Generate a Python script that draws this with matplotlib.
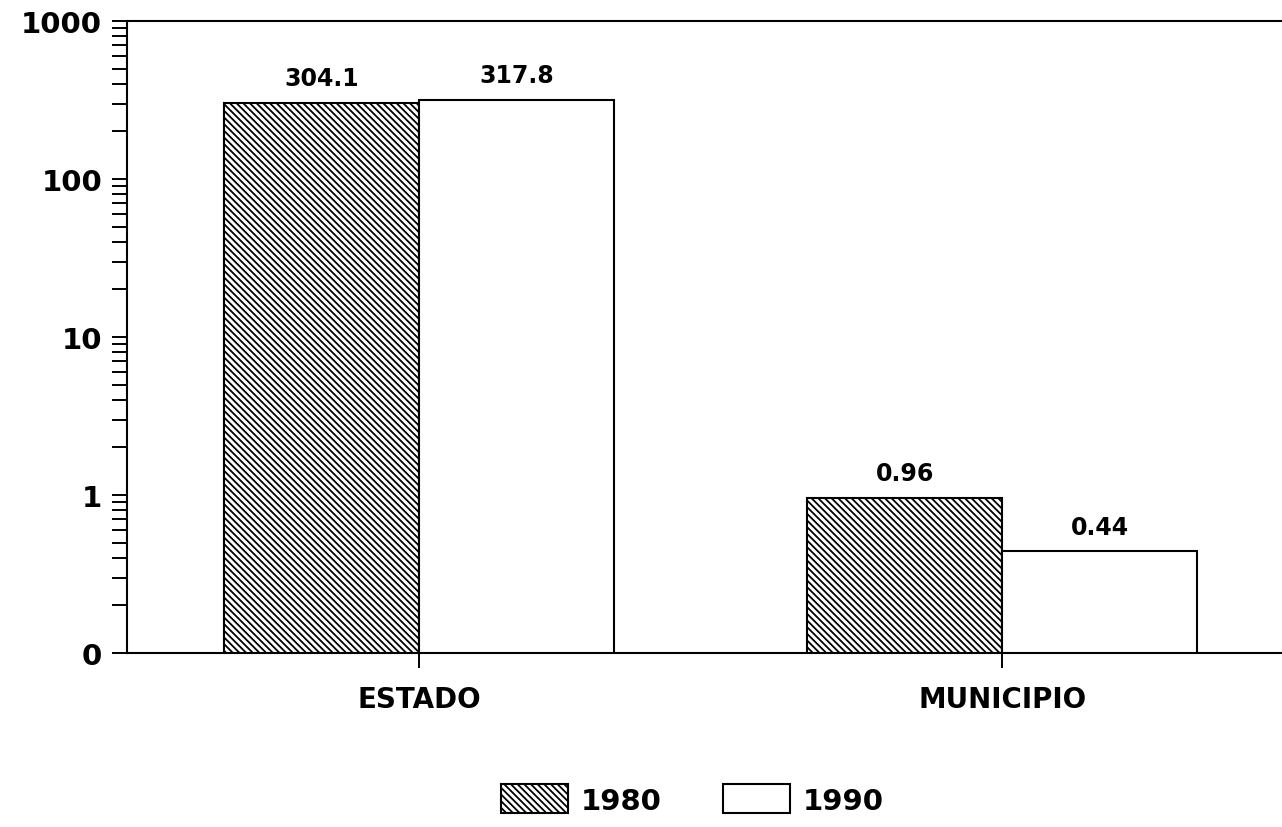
import matplotlib
matplotlib.use('Agg')
import matplotlib.pyplot as plt
from matplotlib.ticker import FixedLocator, NullFormatter

# data
categories = ['ESTADO', 'MUNICIPIO']
years = ['1980', '1990']
values_1980 = [304.1, 0.96]
values_1990 = [317.8, 0.44]
labels_1980 = ['304.1', '0.96']
labels_1990 = ['317.8', '0.44']
ytick_vals = [0.1, 1, 10, 100, 1000]
ytick_labels = ['0', '1', '10', '100', '1000']

plt.rcParams['font.family'] = ['DejaVu Sans']
plt.rcParams['hatch.linewidth'] = 1.3
plt.rcParams['hatch.color'] = 'black'

fig = plt.figure(figsize=(12.82, 8.28), dpi=100)
ax = fig.add_axes([127 / 1282, 1 - 654 / 828, 1 - 127 / 1282, (654 - 22) / 828])

x = list(range(len(categories)))
w = 0.334
b1 = ax.bar([i - w / 2 for i in x], values_1980, width=w, color='white',
            edgecolor='black', linewidth=1.5, hatch='\\' * 5, label=years[0])
b2 = ax.bar([i + w / 2 for i in x], values_1990, width=w, color='white',
            edgecolor='black', linewidth=1.5, label=years[1])

for bars, labs in ((b1, labels_1980), (b2, labels_1990)):
    for rect, lab in zip(bars, labs):
        ax.annotate(lab, (rect.get_x() + rect.get_width() / 2, rect.get_height()),
                    xytext=(0, 9), textcoords='offset points', ha='center', va='bottom',
                    fontsize=17, fontweight='bold')

ax.set_yscale('log')
ax.set_ylim(0.1, 1000)
ax.set_xlim(-0.501, 1.48)
ax.yaxis.set_major_locator(FixedLocator(ytick_vals))
ax.set_yticklabels(ytick_labels, fontsize=21, fontweight='bold')
minor = [m * 10 ** e for e in range(-1, 3) for m in range(2, 10)]
ax.yaxis.set_minor_locator(FixedLocator(minor))
ax.yaxis.set_minor_formatter(NullFormatter())
ax.set_xticks(x)
ax.set_xticklabels(categories, fontsize=20, fontweight='bold')

ax.spines['right'].set_visible(False)
for s in ('left', 'bottom', 'top'):
    ax.spines[s].set_linewidth(1.5)
ax.tick_params(axis='y', which='both', direction='out', length=11, width=1.4, pad=7)
ax.tick_params(axis='x', direction='out', length=11, width=1.4, pad=12)

fig.legend(loc='center', bbox_to_anchor=(0.54, 0.033), ncol=2, frameon=False,
           prop={'size': 21, 'weight': 'bold'}, handlelength=2.3, handleheight=1.15,
           handletextpad=0.45, columnspacing=2.1)

fig.savefig('out.png', dpi=100)
